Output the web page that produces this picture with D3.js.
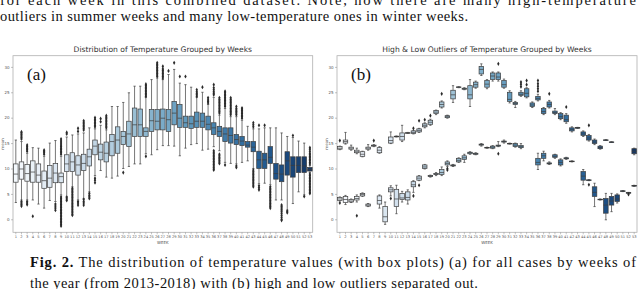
<!DOCTYPE html>
<html>
<head>
<meta charset="utf-8">
<script src="https://cdn.jsdelivr.net/npm/d3@7/dist/d3.min.js"></script>
<style>
  body { margin: 0; background: #fff; }
  svg { display: block; }
</style>
</head>
<body>
<svg id="fig" width="640" height="289"></svg>
<script>
// week categories
var weeks = [1,2,3,4,5,6,7,8,9,10,11,12,13,14,15,16,17,18,19,20,21,22,23,24,25,26,27,
             28,29,30,31,32,33,34,35,36,37,38,39,40,41,42,43,44,45,46,47,48,49,50,51,52,53];
var yTicks = [0, 5, 10, 15, 20, 25, 30];

// (a) all cases: whisker low, q1, median, q3, whisker high
var aLow = [3.3,3.8,3.8,3.8,3.0,2.2,3.7,3.5,4.8,4.5, 6.4,3.8,4.1,5.4,8.6,9.6,8.3,8.1,8.5,10.0,
            10.4,10.9,10.9,12.9,12.7,13.7,14.5,14.5,14.4,12.5, 14.0,14.7,14.9,13.6,13.8,14.3,13.5,11.2,11.0,10.9,
            11.2,11.5,10.0,7.0,7.1,6.8,3.8,3.8,1.8,3.1, 5.4,4.8,9.2];
var aQ1 = [7.3,7.9,7.5,7.3,7.3,6.1,6.3,7.2,7.2,9.4, 9.4,8.7,9.6,10.5,12.7,11.7,11.3,12.5,13.0,14.7,
           14.3,16.3,16.3,16.3,17.3,17.6,17.6,17.3,18.6,18.1, 18.1,17.9,18.1,18.1,17.6,16.7,16.3,15.3,15.0,14.7,
           14.5,14.2,13.3,10.0,10.0,11.0,7.9,7.4,8.7,8.3, 9.2,9.2,9.5];
var aMed = [8.9,9.9,9.0,9.3,8.7,7.6,8.1,9.1,8.4,10.9, 11.3,10.7,11.0,12.3,14.4,13.2,13.0,15.3,15.6,16.3,
            16.8,18.6,18.6,17.3,19.4,19.3,19.9,19.6,20.9,19.9, 19.0,18.8,19.3,19.3,18.7,18.0,17.3,16.8,16.5,15.7,
            15.4,14.6,14.2,11.7,11.7,12.2,9.0,8.9,11.5,10.6, 10.6,10.5,9.8];
var aQ3 = [10.9,11.3,10.8,11.5,10.9,9.5,10.6,11.0,9.1,12.7, 13.1,12.5,12.8,13.8,15.6,14.8,15.2,16.7,18.2,17.3,
           19.3,21.9,21.7,18.0,21.6,21.6,21.7,21.6,23.2,22.6, 20.3,20.3,21.1,20.9,20.3,19.0,18.3,18.0,18.0,16.7,
           16.3,15.3,15.3,13.4,13.0,14.3,11.0,10.7,13.3,12.3, 12.3,12.3,10.2];
var aHigh = [15.6,15.3,13.0,14.1,14.0,12.4,15.0,15.5,12.4,16.2, 16.6,16.8,17.0,18.0,17.8,18.5,17.6,22.2,22.2,23.0,
             24.9,26.2,26.2,24.0,27.5,27.8,27.5,28.5,29.5,26.8, 26.5,26.0,24.0,25.0,22.6,24.0,20.5,21.8,20.2,20.2,
             19.5,18.3,17.8,17.8,18.0,18.0,18.0,17.0,16.3,16.1, 15.4,15.0,10.6];
var aOut = [
  [], [15.8,16.1,16.4,16.7,17.0,17.2,3.5,3.2,2.9,2.6], [13.4,13.7,14.0,14.3,14.6,3.5,3.2,2.9], [0.6], [],
  [12.8,13.1,13.4,13.6], [], [3.0,2.6,2.2,1.8],
  [12.8,13.1,13.4,13.7,14.0,14.3,14.6,15.0,15.4,15.8,4.4,4.1,3.8,3.5,3.2,2.9,2.6,2.3,2.0,1.7,1.4,1.1,0.8,0.5,0.2,-0.1,-0.4,-0.7,-1.0,-1.3],
  [16.8,17.1,4.3,4.0,3.7],
  [6.1,5.8,5.5,5.2,4.9,4.6,4.3,4.0,3.7,3.4,3.1,2.8,2.5,2.2,1.9,1.6,1.3,1.0,0.8],
  [17.3,17.9,3.5,3.2,2.8], [17.6,17.9,18.2,18.5,18.8,19.1,19.4,3.9,3.5,3.2,2.8], [5.1,4.7,4.4,4.1],
  [18.2,18.5,18.8,19.1,19.4,19.7,20.0,8.1,7.7,7.2], [19.2,19.8],
  [18.0,18.3,18.6,18.9,19.2,19.5,19.8,20.1,20.4], [], [], [9.2], [], [], [],
  [24.2,24.5,24.8,25.1,25.4,25.7,26.0,26.3,26.6,12.4], [],
  [28.1,28.4,28.7,29.0,29.3,29.6,29.9,30.2,30.5,30.8], [27.8,28.1,28.4,28.7,29.0,29.3,29.6,30.1],
  [29.2], [30.8], [28.1], [28.1], [], [24.2,24.5,24.8,25.1,25.5], [26.0], [22.9,23.2,23.5,23.9],
  [24.5,24.8,25.1,25.5,25.9,26.5,13.5,13.2,12.9,12.6,12.3,12.0,11.7,11.4,11.1,10.8,10.5,10.2,9.9,9.7],
  [20.9,21.2,21.5,21.8,22.1,22.4,22.7,23.0,23.3,23.6,23.9,12.8,12.5,12.2,11.9,11.6,11.3,11.0],
  [22.2,22.5,22.8,23.1,23.4,23.7,24.0,24.3,24.6,24.9,25.2,10.7],
  [20.6,20.9,21.2,21.5,21.8,22.1,22.4,22.7,23.0,23.3,23.6,23.9],
  [20.6,20.9,21.2,21.5,21.8,22.2,10.5,10.2], [19.9,20.2,20.5,20.8,21.1,21.4,21.7,21.9], [],
  [18.2,18.6,19.0,9.7,9.4,9.1,8.8,8.5,8.2,7.9,7.6,7.3,7.0,6.7,6.4], [18.5,6.6,6.2,5.8], [18.5],
  [6.4,6.1,5.8,5.5,5.2,4.9,4.6,4.3,4.0,3.7,3.4,3.1,2.8,2.5,2.2], [],
  [2.8,2.5,2.2,1.9,1.6,1.2,0.8,0.4,0.0,-0.2], [1.6,1.3], [16.5], [], [4.5],
  [10.9,11.2,11.5,11.8,12.1,12.4,12.7,13.0,13.4,13.8,14.1,8.9,8.6,8.3,8.0,7.7,7.4,7.1,6.8,6.5,6.2,5.9,5.6,5.3,5.1]
];

// (b) high outliers per week: [whisker low, q1, median, q3, whisker high]
var bHigh = [
  [13.7,13.8,14.0,14.3,14.4],[14.8,15.0,15.3,15.6,17.1],[13.6,13.8,14.0,14.2,14.6],[12.9,13.1,13.3,13.6,14.0],
  [12.3,12.4,12.8,13.3,13.4],[13.6,13.8,14.0,14.2,14.7],[14.3,14.4,14.5,14.6,14.7],[13.0,13.1,13.6,14.1,14.3],
  null,[14.9,15.0,15.5,16.2,17.2],[16.2,16.25,16.3,16.35,16.4],[15.3,15.6,16.3,17.0,18.5],
  [16.9,16.95,17.0,17.05,17.1],[16.8,16.9,17.1,17.4,17.5],[17.1,17.2,17.5,17.8,17.9],[18.0,18.2,18.5,18.8,19.0],
  [18.5,18.7,19.1,19.5,19.7],[20.6,20.8,21.1,21.4,21.5],[21.9,22.1,22.6,23.1,23.3],[19.9,20.0,20.2,20.4,20.5],
  [23.0,23.7,24.5,25.4,26.3],[25.9,25.95,26.0,26.05,26.1],[25.5,25.6,25.7,25.8,25.9],[22.2,23.7,24.5,26.3,27.5],
  [25.8,26.0,26.5,27.0,27.2],[28.3,28.6,29.5,30.1,30.6],[25.7,26.0,26.6,27.3,27.5],[27.2,27.5,28.2,28.8,29.0],
  [27.2,27.5,28.0,28.8,29.0],[25.8,26.0,26.5,27.3,27.6],[22.9,23.2,23.6,25.0,25.3],[22.0,22.6,22.8,23.0,23.2],
  [24.2,24.4,24.6,25.0,25.3],[23.9,24.1,24.8,25.7,25.9],[22.0,22.2,22.5,22.9,23.1],[23.3,23.5,23.8,24.2,24.6],
  [20.6,20.8,21.2,21.8,22.0],[21.9,22.1,22.6,23.1,23.4],[20.6,20.8,21.0,21.3,21.8],[19.6,19.8,20.2,20.8,21.0],
  [18.9,19.2,19.6,20.5,20.8],[17.2,17.4,17.7,18.0,18.2],[17.9,17.95,18.0,18.05,18.1],[16.3,16.5,16.8,17.2,17.4],
  [15.4,15.6,16.0,16.5,16.7],[14.7,14.9,15.2,15.6,15.8],[13.8,13.9,14.1,14.4,14.5],[15.55,15.58,15.6,15.62,15.65],
  [15.15,15.18,15.2,15.22,15.25],null,null,null,[12.7,12.9,13.4,13.9,14.0]
];
var bHighOut = [
  [15.5],[],[],[],[],[],[15.5],[],[],[],[],[],[],[17.9],[19.4],[19.6],[20.4],[],[24.7],[],
  [],[],[],[],[],[],[],[],[30.6],[],[],[],[26.1,26.6,27.0],[26.5,27.3],[],[25.2,25.7,26.2,26.7,27.3],
  [],[24.7],[],[],[22.1],[],[],[],[18.5],[],[],[],[],[],[],[],[]
];

// (b) low outliers per week
var bLow = [
  [3.6,3.7,4.0,4.3,4.4],[2.9,3.3,3.9,4.5,4.7],[3.3,3.4,3.6,3.9,4.0],[3.4,3.8,4.1,4.5,4.8],
  [4.5,4.6,4.9,5.1,5.2],[2.5,2.6,2.8,3.0,3.1],null,[2.2,3.0,3.7,4.6,4.8],
  [-1.0,-0.5,0.5,2.5,3.4],[4.6,5.4,5.8,6.2,6.6],[1.1,2.5,4.0,5.9,6.7],[3.4,3.9,4.2,5.1,5.5],
  [3.0,3.8,4.3,5.4,5.8],[5.3,6.4,6.8,7.4,7.6],[7.6,7.7,8.1,8.5,8.6],[9.9,10.0,10.3,10.7,10.8],
  [8.3,8.4,8.5,8.6,8.7],[8.6,8.8,8.9,9.0,9.2],[8.6,8.8,9.2,9.8,10.3],[10.4,10.7,11.0,11.3,11.5],
  [10.4,10.5,10.6,10.7,10.8],[11.2,11.3,11.6,12.0,12.1],[11.2,11.8,12.1,12.5,12.8],[12.8,12.9,13.1,13.2,13.3],
  [12.7,12.8,12.9,13.0,13.1],[14.4,14.6,14.7,14.8,14.9],[14.0,14.05,14.1,14.15,14.2],[13.9,14.0,14.2,14.4,14.5],
  [14.3,14.4,14.5,14.6,15.3],[15.0,15.2,15.3,15.4,15.6],[14.8,14.85,14.9,14.95,15.0],[14.2,14.3,14.6,14.9,15.0],
  [13.9,14.1,14.3,14.5,14.9],null,null,[9.8,10.7,11.2,12.0,13.0],
  [11.5,12.0,12.5,13.0,13.4],[10.8,10.9,11.0,11.1,11.3],[12.0,12.2,12.4,12.7,12.8],[10.5,10.7,11.2,11.7,11.9],
  [11.8,11.9,12.0,12.1,12.2],[11.3,11.35,11.4,11.45,11.5],null,[6.8,7.7,8.5,9.4,9.8],
  [7.6,7.65,7.7,7.75,7.8],[2.5,4.5,5.3,6.4,7.1],[3.8,3.85,3.9,3.95,4.0],[-0.1,1.2,2.8,4.1,5.1],
  [1.5,2.8,3.6,4.5,5.1],[3.2,3.5,4.0,4.8,5.0],[5.45,5.5,5.55,5.6,5.65],[5.1,5.15,5.2,5.25,5.3],
  [6.5,6.55,6.6,6.65,6.7]
];
var bLowOut = [
  [3.2],[],[],[0.7],[],[],[],[],[],[4.1],[],[],[],[4.6],[6.7],[],[],[],[],[10.0,9.7],
  [],[],[],[],[],[],[],[],[12.9],[],[],[],[],[],[],[],[],[],[],[],[],[],[],[],[6.8],[],[],[],[],[],[],[4.9],[]
];

var topLines = ["for each week in this combined dataset.  Note, how there are many high-temperature",
                "outliers in summer weeks and many low-temperature ones in winter weeks."];
var captionRest = [" The distribution of temperature values (with box plots) (a) for all cases by weeks of",
                   "the year (from 2013-2018) with (b) high and low outliers separated out."];

var svg = d3.select("#fig");
var edge = "#3c3c3c";

function weekColor(i) {
    var c = d3.hsl(d3.interpolateBlues((i + 1) / 54));
    c.s *= 0.75;
    return c.formatHex();
}

function panel(left, right, title, tag, series) {
    var top = 55.7, bottom = 232.3;
    var x = d3.scaleBand().domain(weeks).range([left, right]);
    var y = d3.scaleLinear().domain([-2.56, 32.2]).range([bottom, top]);
    var g = svg.append("g");

    g.append("rect")
        .attr("x", left).attr("y", top)
        .attr("width", right - left).attr("height", bottom - top)
        .attr("fill", "none").attr("stroke", "#b0b0b0").attr("stroke-width", 0.8);

    var bw = x.bandwidth() * 0.8;

    series.forEach(function (s) {
        var boxes = weeks.map(function (w, i) {
            return s.stats[i] ? {w: w, i: i, v: s.stats[i]} : null;
        }).filter(function (d) { return d; });

        var bg = g.append("g").selectAll("g").data(boxes).enter().append("g")
            .attr("transform", function (d) { return "translate(" + (x(d.w) + x.bandwidth() / 2) + ",0)"; });

        // whiskers
        bg.append("line").attr("y1", function (d) { return y(d.v[0]); }).attr("y2", function (d) { return y(d.v[1]); })
            .attr("stroke", edge).attr("stroke-width", 0.7);
        bg.append("line").attr("y1", function (d) { return y(d.v[3]); }).attr("y2", function (d) { return y(d.v[4]); })
            .attr("stroke", edge).attr("stroke-width", 0.7);
        // caps
        [0, 4].forEach(function (k) {
            bg.append("line").attr("x1", -bw / 4).attr("x2", bw / 4)
                .attr("y1", function (d) { return y(d.v[k]); }).attr("y2", function (d) { return y(d.v[k]); })
                .attr("stroke", edge).attr("stroke-width", 0.7);
        });
        bg.append("rect")
            .attr("x", -bw / 2).attr("width", bw)
            .attr("y", function (d) { return y(d.v[3]); })
            .attr("height", function (d) { return Math.max(0.6, y(d.v[1]) - y(d.v[3])); })
            .attr("fill", function (d) { return weekColor(d.i); })
            .attr("stroke", edge).attr("stroke-width", 0.7);
        bg.append("line").attr("x1", -bw / 2).attr("x2", bw / 2)
            .attr("y1", function (d) { return y(d.v[2]); }).attr("y2", function (d) { return y(d.v[2]); })
            .attr("stroke", edge).attr("stroke-width", 0.7);

        // fliers
        var pts = [];
        s.out.forEach(function (list, i) {
            list.forEach(function (v) { pts.push({w: weeks[i], v: v}); });
        });
        g.append("g").selectAll("path").data(pts).enter().append("path")
            .attr("d", d3.symbol().type(d3.symbolDiamond).size(5))
            .attr("transform", function (d) {
                return "translate(" + (x(d.w) + x.bandwidth() / 2) + "," + y(d.v) + ")";
            })
            .attr("fill", "#2a2a2a");
    });

    var ay = g.append("g").attr("transform", "translate(" + left + ",0)")
        .call(d3.axisLeft(y).tickValues(yTicks).tickSize(2).tickPadding(1.5));
    var ax = g.append("g").attr("transform", "translate(0," + bottom + ")")
        .call(d3.axisBottom(x).tickSize(2).tickPadding(1.5));
    [ay, ax].forEach(function (a) {
        a.select(".domain").remove();
        a.selectAll("line").attr("stroke", "#888").attr("stroke-width", 0.5);
        a.selectAll("text").attr("font-family", "DejaVu Sans").attr("fill", "#555");
    });
    ay.selectAll("text").attr("font-size", 4);
    ax.selectAll("text").attr("font-size", 3.6);

    g.append("text").attr("x", left - 9).attr("y", (top + bottom) / 2)
        .attr("transform", "rotate(-90," + (left - 9) + "," + ((top + bottom) / 2) + ")")
        .attr("text-anchor", "middle").attr("font-family", "DejaVu Sans").attr("font-size", 4)
        .attr("fill", "#555").text("mean");
    g.append("text").attr("x", (left + right) / 2).attr("y", bottom + 12)
        .attr("text-anchor", "middle").attr("font-family", "DejaVu Sans").attr("font-size", 4)
        .attr("fill", "#555").text("WEEK");

    g.append("text").attr("x", (left + right) / 2).attr("y", top - 4)
        .attr("text-anchor", "middle").attr("font-family", "DejaVu Sans").attr("font-size", 7.6)
        .attr("fill", "#333").text(title);
    g.append("text").attr("x", left + 14).attr("y", 80)
        .attr("font-family", "Liberation Serif").attr("font-size", 17)
        .attr("fill", "#111").text(tag);
}

panel(13, 312.7, "Distribution of Temperature Grouped by Weeks", "(a)",
      [{stats: weeks.map(function (w, i) { return [aLow[i], aQ1[i], aMed[i], aQ3[i], aHigh[i]]; }), out: aOut}]);
panel(337, 637, "High & Low Outliers of Temperature Grouped by Weeks", "(b)",
      [{stats: bHigh, out: bHighOut}, {stats: bLow, out: bLowOut}]);

// surrounding paper text
var serif = "Liberation Serif";
svg.append("text").attr("x", 0).attr("y", 5).attr("font-family", serif).attr("font-size", 14.5)
    .attr("fill", "#111").attr("textLength", 636).attr("lengthAdjust", "spacing").text(topLines[0]);
svg.append("text").attr("x", 0).attr("y", 21).attr("font-family", serif).attr("font-size", 14.5)
    .attr("fill", "#111").attr("textLength", 468).attr("lengthAdjust", "spacing").text(topLines[1]);

var cap = svg.append("text").attr("x", 30).attr("y", 267).attr("font-family", serif).attr("font-size", 14.5)
    .attr("fill", "#111").attr("textLength", 606).attr("lengthAdjust", "spacing");
cap.append("tspan").attr("font-weight", "bold").text("Fig. 2.");
cap.append("tspan").text(captionRest[0]);
svg.append("text").attr("x", 30).attr("y", 288).attr("font-family", serif).attr("font-size", 14.5)
    .attr("fill", "#111").attr("textLength", 448).attr("lengthAdjust", "spacing").text(captionRest[1]);
</script>
</body>
</html>
